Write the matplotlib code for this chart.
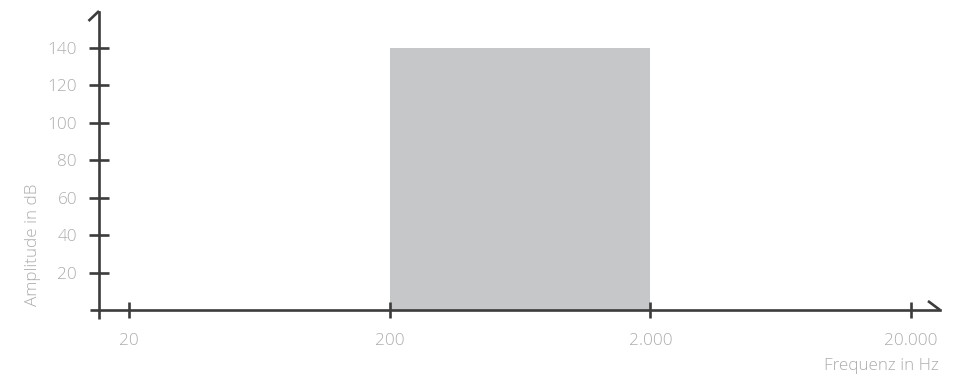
import matplotlib
matplotlib.use("Agg")
import matplotlib.pyplot as plt

# Data
band_low = [200]
band_high = [2000]
band_amplitude = [140]
x_ticks = [20, 200, 2000, 20000]
x_tick_labels = ["20", "200", "2.000", "20.000"]
y_ticks = [20, 40, 60, 80, 100, 120, 140]
y_tick_labels = ["20", "40", "60", "80", "100", "120", "140"]

W, H = 968, 382
fig = plt.figure(figsize=(W / 100, H / 100), dpi=100)
L, R, B, T = 99, 940, 310, 12
ax = fig.add_axes([L / W, 1 - B / H, (R - L) / W, (B - T) / H])

ax.set_xscale("log")
ax.set_xlim(15.34, 25830)
ax.set_ylim(0, 159.2)

axis_col = "#3c3c3c"
text_col = "#adadad"
bar_col = "#c6c7c8"
lw = 1.9
fs = 12.3
font = dict(family=["Open Sans", "DejaVu Sans"], weight="light")

for lo, hi, amp in zip(band_low, band_high, band_amplitude):
    ax.bar(lo, amp, width=hi - lo, align="edge", color=bar_col, linewidth=0, zorder=1)

for s in ["top", "right"]:
    ax.spines[s].set_visible(False)
for s in ["left", "bottom"]:
    ax.spines[s].set_color(axis_col)
    ax.spines[s].set_linewidth(lw)
    ax.spines[s].set_zorder(3)

ax.set_xticks(x_ticks)
ax.set_xticklabels(x_tick_labels, **font)
ax.minorticks_off()
ax.set_yticks(y_ticks)
ax.set_yticklabels(y_tick_labels, **font)
ax.tick_params(axis="x", direction="inout", length=12, width=lw, color=axis_col,
               labelcolor=text_col, labelsize=fs, pad=10.5)
ax.tick_params(axis="y", direction="inout", length=14.5, width=lw, color=axis_col,
               labelcolor=text_col, labelsize=fs, pad=8.5)
for lab in ax.get_yticklabels():
    lab.set_va("center_baseline")

# axis extensions and half-arrow heads (axes coordinates)
aw, ah = R - L, B - T
def ac(px, py):
    return ((px - L) / aw, (B - py) / ah)
segs = [
    [ac(99, 310), ac(99, 319)],
    [ac(90, 310), ac(99, 310)],
    [ac(99, 11), ac(88.5, 21)],
    [ac(940, 310), ac(928, 301)],
]
for seg in segs:
    (x0, y0), (x1, y1) = seg
    ax.plot([x0, x1], [y0, y1], transform=ax.transAxes, color=axis_col, lw=lw,
            clip_on=False, solid_capstyle="butt", zorder=4)

ax.text((33 - L) / aw, (B - 245) / ah, "Amplitude in dB", rotation=90,
        transform=ax.transAxes, ha="center", va="center", color=text_col,
        fontsize=fs, **font)
ax.text((939 - L) / aw, (B - 364) / ah, "Frequenz in Hz", transform=ax.transAxes,
        ha="right", va="center_baseline", color=text_col, fontsize=fs, **font)

fig.savefig("out.png", dpi=100)
